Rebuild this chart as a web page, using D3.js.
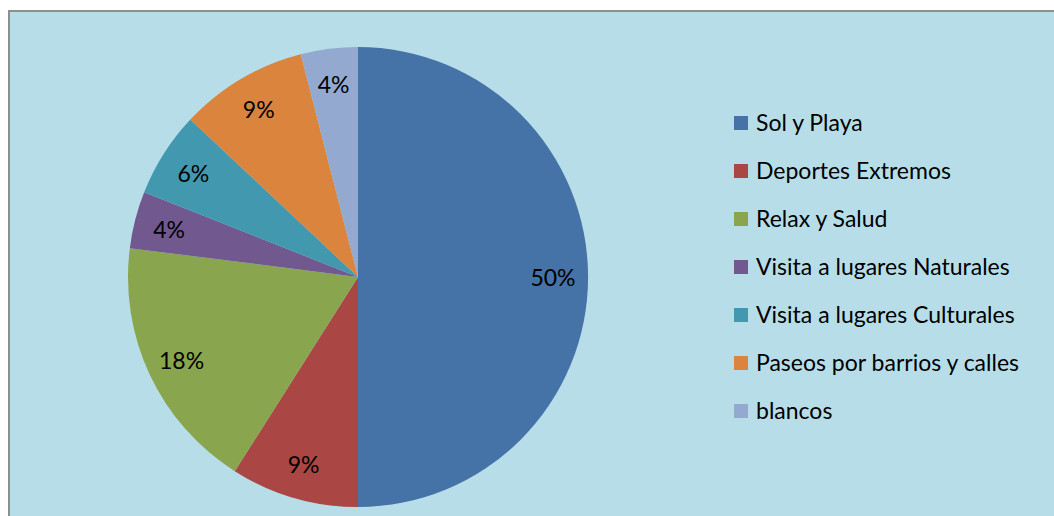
<!DOCTYPE html>
<html>
<head>
<meta charset="utf-8">
<script src="https://cdn.jsdelivr.net/npm/d3@7"></script>
<style>
  html, body { margin: 0; padding: 0; background: #ffffff; }
  svg { display: block; }
  text { font-family: Lato, "Open Sans", sans-serif; fill: #000; }
</style>
</head>
<body>
<svg id="chart" width="1054" height="516"></svg>
<script>
// Motivos de viaje (porcentaje de respuestas)
const categories = [
  "Sol y Playa",
  "Deportes Extremos",
  "Relax y Salud",
  "Visita a lugares Naturales",
  "Visita a lugares Culturales",
  "Paseos por barrios y calles",
  "blancos"
];
const percentages = [50, 9, 18, 4, 6, 9, 4];
const sliceColors = ["#4572A7", "#AA4643", "#89A54E", "#71588F", "#4198AF", "#DB843D", "#93A9CF"];

const width = 1054, height = 516;
const svg = d3.select("#chart");

// Chart area with grey frame (left and top edges visible)
svg.append("rect")
  .attr("x", 10).attr("y", 12)
  .attr("width", width).attr("height", height)
  .attr("fill", "#B7DEE8");
svg.append("line")
  .attr("x1", 9).attr("x2", 9).attr("y1", 11).attr("y2", height)
  .attr("stroke", "#8e8e8e").attr("stroke-width", 2);
svg.append("line")
  .attr("x1", 8).attr("x2", width).attr("y1", 11).attr("y2", 11)
  .attr("stroke", "#8e8e8e").attr("stroke-width", 2);

const data = categories.map((c, i) => ({ name: c, value: percentages[i], color: sliceColors[i] }));

const cx = 358, cy = 277, radius = 230;
const pie = d3.pie().value(d => d.value).sort(null);
const arc = d3.arc().innerRadius(0).outerRadius(radius);
const labelArc = d3.arc().innerRadius(195).outerRadius(195);

const g = svg.append("g").attr("transform", `translate(${cx},${cy})`);
const arcs = pie(data);

g.selectAll("path.slice")
  .data(arcs)
  .join("path")
  .attr("class", "slice")
  .attr("d", arc)
  .attr("fill", d => d.data.color);

g.selectAll("text.pct")
  .data(arcs)
  .join("text")
  .attr("class", "pct")
  .attr("transform", d => {
    const [x, y] = labelArc.centroid(d);
    return `translate(${x},${y})`;
  })
  .attr("text-anchor", "middle")
  .attr("dominant-baseline", "central")
  .attr("font-size", 23)
  .text(d => d.data.value + "%");

// Legend
const legend = svg.append("g").attr("transform", "translate(734,123)");
const item = legend.selectAll("g.item")
  .data(data)
  .join("g")
  .attr("class", "item")
  .attr("transform", (d, i) => `translate(0,${i * 48})`);
item.append("rect")
  .attr("x", 0).attr("y", -7)
  .attr("width", 14).attr("height", 14)
  .attr("fill", d => d.color);
item.append("text")
  .attr("x", 22).attr("y", -1)
  .attr("dominant-baseline", "central")
  .attr("font-size", 23)
  .text(d => d.name);
</script>
</body>
</html>
